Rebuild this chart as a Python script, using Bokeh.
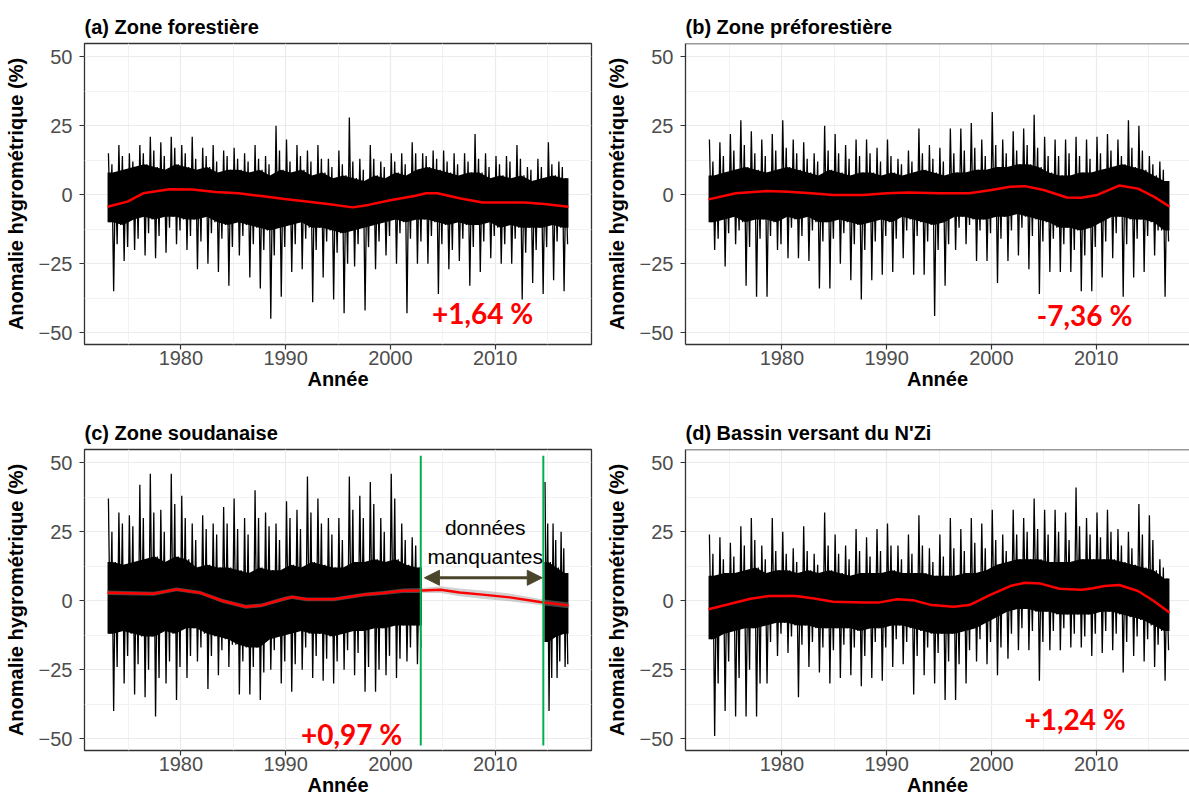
from bokeh.plotting import figure
from bokeh.models import Range1d, FixedTicker, Label, Arrow, NormalHead, Span
from bokeh.layouts import gridplot
from bokeh.embed import file_html
from bokeh.resources import INLINE

# ---------------- data ----------------
YEAR0, YEAR1 = 1973, 2017
X_TICKS = [1980, 1990, 2000, 2010]
X_MINOR = [1975, 1985, 1995, 2005, 2015]
Y_TICKS = [-50, -25, 0, 25, 50]
Y_MINOR = [-37.5, -12.5, 12.5, 37.5]

titles = ["(a) Zone forestière", "(b) Zone préforestière",
          "(c) Zone soudanaise", "(d) Bassin versant du N'Zi"]
trend_labels = ["+1,64 %", "-7,36 %", "+0,97 %", "+1,24 %"]
trend_label_x = [2008.8, 2008.9, 1996.3, 2008.0]
trend_label_y = [-43.0, -43.5, -48.5, -43.0]

# panel (a): per year 1973..2016 -> highest peak, secondary peak, core top,
# core bottom, secondary trough, lowest trough
a_hi = [15, 18, 15, 18, 21, 19, 21, 18, 21, 17, 18, 16, 17, 15, 18, 14, 25, 20, 18, 16, 18, 13,
        16, 28, 13, 18, 12, 15, 15, 19, 15, 16, 16, 15, 15, 22, 15, 14, 14, 18, 10, 13, 19, 12]
a_hi2 = [11, 14, 12, 15, 16, 14, 17, 15, 13, 14, 12, 14, 13, 12, 13, 11, 16, 12, 14, 12, 13, 10,
         11, 12, 9, 13, 10, 12, 11, 15, 14, 13, 12, 11, 12, 13, 10, 11, 12, 13, 9, 10, 11, 10]
a_hi3 = [8, 9, 10, 11, 10, 9, 11, 10, 9, 10, 8, 9, 9, 8, 9, 7, 9, 8, 9, 7, 8, 6,
         7, 6, 5, 7, 6, 8, 7, 9, 10, 9, 8, 7, 8, 8, 6, 7, 6, 7, 5, 6, 7, 6]
a_lo3 = [-10, -11, -9, -8, -9, -8, -8, -9, -9, -8, -10, -11, -10, -11, -12, -13, -12, -11, -10, -12, -12, -13,
         -14, -13, -12, -11, -10, -9, -10, -9, -9, -10, -11, -10, -11, -11, -10, -12, -11, -12, -12, -12, -11, -12]
a_lo2 = [-18, -19, -16, -14, -15, -12, -13, -15, -17, -14, -16, -19, -15, -18, -20, -22, -19, -18, -16, -20, -17, -21,
         -25, -18, -19, -17, -15, -14, -16, -17, -15, -18, -20, -16, -19, -17, -15, -18, -16, -21, -20, -19, -17, -18]
a_lo = [-35, -24, -20, -22, -23, -21, -18, -20, -27, -25, -28, -33, -22, -30, -34, -45, -37, -28, -27, -39, -30, -38,
        -43, -26, -42, -27, -22, -25, -43, -25, -25, -36, -27, -24, -33, -28, -23, -25, -25, -38, -32, -36, -31, -35]
a_sm_x = [1973, 1974.9, 1976.4, 1978.9, 1981.1, 1983.3, 1985.5, 1987.7, 1989.9, 1992, 1994.2, 1996.4,
          1997.9, 2000.1, 2002.3, 2003.4, 2004.5, 2006.6, 2008.8, 2010.3, 2012.8, 2014.7, 2017]
a_sm_y = [-4.4, -2.5, 0.5, 2.0, 1.9, 1.0, 0.5, -0.5, -1.6, -2.5, -3.5, -4.6,
          -3.7, -1.9, -0.5, 0.5, 0.5, -1.3, -2.8, -2.8, -2.8, -3.4, -4.4]

# panel (b)
b_hi = [20, 19, 22, 27, 23, 20, 22, 27, 20, 19, 15, 25, 22, 18, 20, 20, 17, 20, 13, 16, 24, 18,
        17, 24, 24, 26, 20, 30, 20, 23, 24, 29, 21, 20, 20, 21, 20, 21, 22, 20, 27, 25, 14, 12]
b_hi2 = [12, 14, 16, 18, 15, 14, 16, 17, 15, 13, 12, 16, 15, 13, 14, 15, 12, 14, 11, 12, 15, 13,
         12, 15, 16, 17, 14, 18, 15, 16, 18, 17, 14, 14, 15, 14, 13, 15, 16, 14, 17, 16, 11, 9]
b_hi3 = [7, 8, 9, 10, 9, 8, 9, 10, 9, 8, 7, 9, 8, 7, 8, 8, 7, 8, 7, 8, 9, 8,
         7, 8, 8, 9, 9, 10, 10, 11, 11, 10, 8, 7, 7, 8, 8, 9, 10, 11, 10, 9, 7, 5]
b_lo3 = [-10, -9, -8, -10, -9, -9, -10, -8, -9, -8, -10, -10, -9, -10, -11, -10, -9, -10, -8, -9, -10, -11,
         -10, -8, -8, -9, -9, -8, -8, -7, -8, -9, -10, -12, -12, -13, -12, -10, -8, -8, -9, -9, -10, -13]
b_lo2 = [-16, -14, -13, -19, -16, -15, -18, -12, -15, -13, -17, -16, -14, -18, -20, -17, -15, -16, -13, -15, -17, -20,
         -18, -12, -11, -13, -14, -16, -13, -12, -15, -17, -16, -18, -20, -22, -19, -17, -14, -18, -16, -15, -13, -17]
b_lo = [-20, -26, -18, -33, -37, -37, -20, -23, -23, -24, -34, -34, -25, -31, -38, -31, -29, -28, -23, -29, -29, -44,
        -33, -20, -18, -24, -24, -32, -24, -22, -27, -36, -28, -28, -28, -35, -35, -30, -23, -37, -30, -28, -22, -37]
b_sm_x = [1973, 1975.6, 1978.5, 1980.6, 1982.8, 1984.9, 1987.8, 1990, 1992.1, 1995, 1997.9, 2000,
          2001.8, 2003.2, 2005, 2007.2, 2008.6, 2010.1, 2012.2, 2014, 2015.5, 2017]
b_sm_y = [-1.7, 0.5, 1.3, 1.1, 0.5, -0.1, -0.1, 0.5, 0.8, 0.5, 0.5, 1.7,
          2.9, 3.1, 1.7, -1.0, -1.1, -0.1, 3.3, 2.2, -0.7, -4.3]

# panel (c): 1973..2002, then missing data, then 2014.7..2017
c_gap = [2002.9, 2014.6]
c_hi = [37, 32, 31, 42, 46, 33, 46, 38, 28, 31, 28, 34, 37, 30, 40, 32, 28, 36, 33, 45,
        37, 30, 30, 45, 38, 43, 30, 46, 28, 23]
c_hi2 = [25, 28, 27, 30, 32, 25, 35, 30, 22, 26, 24, 28, 26, 24, 30, 27, 22, 30, 26, 32,
         28, 24, 22, 33, 30, 35, 25, 37, 22, 20]
c_hi3 = [14, 13, 14, 15, 16, 14, 16, 15, 12, 13, 12, 12, 11, 10, 12, 11, 11, 13, 12, 14,
         13, 12, 12, 14, 14, 15, 14, 15, 13, 12]
c_lo3 = [-12, -11, -12, -13, -13, -11, -12, -10, -10, -12, -13, -14, -16, -17, -17, -14, -13, -12, -11, -12,
         -12, -13, -12, -11, -11, -10, -10, -9, -9, -9]
c_lo2 = [-24, -20, -23, -25, -28, -22, -24, -20, -17, -20, -18, -16, -22, -24, -26, -18, -22, -23, -17, -20,
         -21, -22, -18, -19, -24, -25, -20, -21, -17, -17]
c_lo = [-40, -30, -34, -35, -42, -30, -36, -28, -22, -32, -27, -24, -34, -34, -36, -25, -30, -33, -25, -28,
        -29, -30, -25, -27, -33, -33, -27, -28, -22, -23]
c2_hi = [43, 28, 25]
c2_hi2 = [28, 22, 19]
c2_hi3 = [14, 12, 10]
c2_lo3 = [-15, -13, -12]
c2_lo2 = [-28, -22, -23]
c2_lo = [-40, -28, -24]
c_sm_x = [1973, 1977.4, 1979.6, 1981.8, 1984, 1986.2, 1987.7, 1989.9, 1990.6, 1992, 1994.6,
          1997.5, 1999.3, 2001.2, 2003, 2004.8, 2006.6, 2008.8, 2011.4, 2014.3, 2017]
c_sm_y = [2.9, 2.5, 4.1, 2.9, -0.1, -2.2, -1.7, 0.7, 1.3, 0.5, 0.5,
          2.2, 2.8, 3.6, 3.7, 4.0, 3.0, 2.2, 1.2, -0.5, -1.7]
c_sm_se = [0.8, 0.7, 0.7, 0.7, 0.7, 0.7, 0.7, 0.7, 0.7, 0.7, 0.7,
           0.7, 0.7, 0.8, 0.9, 1.2, 1.4, 1.5, 1.4, 1.1, 1.0]

# panel (d)
d_hi = [24, 23, 21, 27, 30, 20, 30, 25, 19, 27, 17, 32, 24, 20, 26, 23, 26, 28, 20, 24, 31, 19,
        24, 30, 26, 30, 28, 33, 24, 33, 30, 37, 33, 33, 32, 41, 30, 32, 33, 26, 25, 35, 31, 15]
d_hi2 = [17, 15, 16, 20, 22, 15, 18, 17, 14, 18, 13, 20, 17, 15, 18, 16, 18, 20, 15, 17, 20, 14,
         16, 19, 18, 21, 19, 22, 18, 24, 25, 26, 24, 25, 22, 27, 24, 23, 25, 20, 19, 24, 22, 12]
d_hi3 = [9, 10, 10, 11, 12, 10, 11, 11, 10, 11, 10, 11, 10, 9, 10, 10, 10, 11, 10, 10, 10, 9,
         9, 9, 10, 10, 11, 13, 14, 15, 15, 15, 14, 14, 14, 15, 15, 15, 15, 14, 13, 12, 11, 8]
d_lo3 = [-14, -12, -11, -10, -10, -9, -8, -8, -9, -9, -10, -10, -10, -10, -11, -10, -10, -9, -9, -10, -11, -12,
         -12, -12, -11, -10, -8, -6, -4, -3, -3, -4, -4, -5, -5, -5, -5, -4, -4, -5, -6, -7, -9, -11]
d_lo2 = [-30, -22, -28, -25, -30, -15, -12, -13, -16, -15, -17, -18, -16, -17, -20, -15, -17, -14, -15, -20, -17, -19,
         -22, -23, -18, -14, -15, -17, -12, -10, -11, -15, -11, -10, -12, -13, -12, -11, -12, -15, -13, -14, -16, -18]
d_lo = [-49, -40, -42, -42, -42, -30, -20, -19, -35, -24, -26, -30, -28, -27, -31, -28, -29, -24, -23, -34, -27, -30,
        -36, -36, -30, -22, -23, -27, -21, -18, -18, -29, -18, -18, -17, -17, -20, -19, -18, -26, -20, -22, -24, -29]
d_sm_x = [1973, 1974.9, 1977, 1978.8, 1981.3, 1983.1, 1984.9, 1987.8, 1989.2, 1991, 1992.5, 1994.3, 1996.4,
          1997.9, 2000, 2001.8, 2003.2, 2004.7, 2006.5, 2008.6, 2009.7, 2010.8, 2012.2, 2014, 2015.5, 2017]
d_sm_y = [-3.1, -1.3, 0.7, 1.7, 1.7, 0.8, -0.4, -0.7, -0.7, 0.5, 0.2, -1.6, -2.2,
          -1.6, 2.3, 5.3, 6.5, 6.2, 4.3, 4.0, 4.5, 5.3, 5.7, 3.5, -0.1, -4.3]

# ---------------- styling ----------------
FONT = "Liberation Sans"
FRAME_W = 507
FRAME_H = 301
X_START, X_END = 1970.8, 2019.2
Y_START, Y_END = -54.3, 54.8


def zigzag(t0, t1, hi, lo3, hi2, lo, hi3, lo2):
    n = len(hi)
    step = (t1 - t0) / n
    xs, ys = [], []
    fr = (1 / 12, 3 / 12, 5 / 12, 7 / 12, 9 / 12, 11 / 12)
    for i in range(n):
        base = t0 + i * step
        for frac, v in zip(fr, (hi[i], lo3[i], hi2[i], lo[i], hi3[i], lo2[i])):
            xs.append(base + frac * step)
            ys.append(v)
    return xs, ys


def make_fig(title, right_col, bottom_row):
    frame_w = FRAME_W if not right_col else 504
    x_end = X_END if not right_col else X_START + (X_END - X_START) * frame_w / FRAME_W
    right_b = 10 if not right_col else 0
    top_b = 43
    bot_b = 62 if not bottom_row else 55
    p = figure(width=84 + frame_w + right_b, height=top_b + FRAME_H + bot_b,
               x_range=Range1d(X_START, x_end), y_range=Range1d(Y_START, Y_END),
               output_backend="svg", toolbar_location=None,
               min_border_left=84, min_border_right=right_b,
               min_border_top=top_b, min_border_bottom=bot_b,
               background_fill_color="white", border_fill_color="white")
    p.title.text = title
    p.title.text_font = FONT
    p.title.text_font_size = "20px"
    p.title.text_font_style = "bold"
    p.title.text_color = "black"
    p.title.align = "left"
    p.title.standoff = 11

    p.xaxis.ticker = FixedTicker(ticks=X_TICKS, minor_ticks=X_MINOR)
    p.yaxis.ticker = FixedTicker(ticks=Y_TICKS, minor_ticks=Y_MINOR)
    for ax in (p.xaxis, p.yaxis):
        ax.major_label_text_font = FONT
        ax.major_label_text_font_size = "20px"
        ax.major_label_text_color = "#4d4d4d"
        ax.major_tick_line_color = "#333333"
        ax.major_tick_line_width = 1.2
        ax.major_tick_out = 5
        ax.major_tick_in = 0
        ax.minor_tick_line_color = None
        ax.axis_label_text_font = FONT
        ax.axis_label_text_font_size = "20px"
        ax.axis_label_text_font_style = "bold"
        ax.axis_label_text_color = "black"
    p.xaxis.axis_label = "Année"
    p.yaxis.axis_label = "Anomalie hygrométrique (%)"
    p.xaxis.major_label_standoff = 1
    p.xaxis.axis_label_standoff = 0
    p.yaxis.major_label_standoff = 7
    p.yaxis.axis_label_standoff = 9

    for g in (p.xgrid, p.ygrid):
        g.grid_line_color = "#ebebeb"
        g.grid_line_width = 1.2
        g.minor_grid_line_color = "#f2f2f2"
        g.minor_grid_line_width = 1

    if right_col:
        p.outline_line_color = None
        p.xaxis.axis_line_color = "#333333"
        p.yaxis.axis_line_color = "#333333"
        p.xaxis.axis_line_width = 1.3
        p.yaxis.axis_line_width = 1.3
        p.add_layout(Span(location=Y_END, dimension="width",
                          line_color="#333333", line_width=1.3))
    else:
        p.xaxis.axis_line_color = None
        p.yaxis.axis_line_color = None
        p.outline_line_color = "#333333"
        p.outline_line_width = 1.3
    return p


def draw_series(p, t0, t1, hi, hi2, hi3, lo3, lo2, lo):
    n = len(hi)
    step = (t1 - t0) / n
    # core band: yearly core bounds, held flat out to the ends of the record
    cx = [t0] + [t0 + (i + 0.5) * step for i in range(n)] + [t1]
    c_lo = [lo3[0]] + list(lo3) + [lo3[-1]]
    c_hi = [hi3[0]] + list(hi3) + [hi3[-1]]
    p.varea(x=cx, y1=c_lo, y2=c_hi, fill_color="black")
    xs, ys = zigzag(t0, t1, hi, lo3, hi2, lo, hi3, lo2)
    p.line(xs, ys, line_color="black", line_width=1.3)


def add_trend(p, i):
    p.add_layout(Label(x=trend_label_x[i], y=trend_label_y[i], text=trend_labels[i],
                       text_font="Lato", text_font_size="28px", text_font_style="bold",
                       text_color="#ff0000", text_align="center", text_baseline="middle"))


pa = make_fig(titles[0], False, False)
draw_series(pa, YEAR0, YEAR1, a_hi, a_hi2, a_hi3, a_lo3, a_lo2, a_lo)
pa.line(a_sm_x, a_sm_y, line_color="#ff0000", line_width=2.5)
add_trend(pa, 0)

pb = make_fig(titles[1], True, False)
draw_series(pb, YEAR0, YEAR1, b_hi, b_hi2, b_hi3, b_lo3, b_lo2, b_lo)
pb.line(b_sm_x, b_sm_y, line_color="#ff0000", line_width=2.5)
add_trend(pb, 1)

pc = make_fig(titles[2], False, True)
draw_series(pc, YEAR0, 2003.0, c_hi, c_hi2, c_hi3, c_lo3, c_lo2, c_lo)
draw_series(pc, 2014.7, YEAR1, c2_hi, c2_hi2, c2_hi3, c2_lo3, c2_lo2, c2_lo)
pc.varea(x=c_sm_x, y1=[m - s for m, s in zip(c_sm_y, c_sm_se)],
         y2=[m + s for m, s in zip(c_sm_y, c_sm_se)], fill_color="#999999", fill_alpha=0.45)
pc.line(c_sm_x, c_sm_y, line_color="#ff0000", line_width=2.5)
pc.segment(x0=c_gap, y0=[-52.5, -52.5], x1=c_gap, y1=[52.5, 52.5],
           line_color="#00b050", line_width=2)
arrow_col = "#4a452a"
pc.add_layout(Arrow(start=NormalHead(size=15, fill_color=arrow_col, line_color=arrow_col),
                    end=NormalHead(size=15, fill_color=arrow_col, line_color=arrow_col),
                    x_start=c_gap[0] + 0.35, y_start=8.3, x_end=c_gap[1] - 0.1, y_end=8.3,
                    line_color=arrow_col, line_width=3))
mid = (c_gap[0] + c_gap[1]) / 2 + 0.3
pc.add_layout(Label(x=mid, y=26.4, text="données", text_font=FONT, text_font_size="21px",
                    text_color="black", text_align="center", text_baseline="middle"))
pc.add_layout(Label(x=mid, y=16.1, text="manquantes", text_font=FONT, text_font_size="21px",
                    text_color="black", text_align="center", text_baseline="middle"))
add_trend(pc, 2)

pd_ = make_fig(titles[3], True, True)
draw_series(pd_, YEAR0, YEAR1, d_hi, d_hi2, d_hi3, d_lo3, d_lo2, d_lo)
pd_.line(d_sm_x, d_sm_y, line_color="#ff0000", line_width=2.5)
add_trend(pd_, 3)

grid = gridplot([[pa, pb], [pc, pd_]], toolbar_location=None)
open("out.html", "w").write(file_html(grid, INLINE))
